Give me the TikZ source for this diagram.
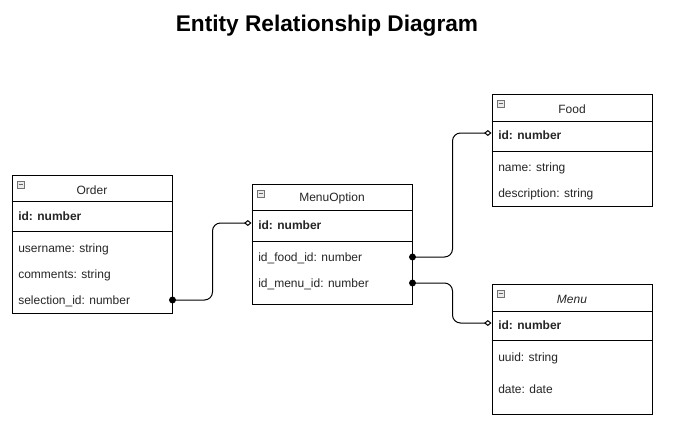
\documentclass[tikz,border=0pt]{standalone}
\usepackage{fontspec}
\setmainfont{Liberation Sans}
\usetikzlibrary{arrows.meta}
\tikzset{
  ent/.style={draw=black, line width=0.75pt, fill=white, inner sep=0pt, minimum width=120pt},
  fld/.style={anchor=west, inner sep=0pt, yshift=-1.3pt, font=\fontsize{9pt}{10pt}\selectfont, text=black!85},
  pk/.style={fld, font=\bfseries\fontsize{9pt}{10pt}\selectfont},
  hdr/.style={inner sep=0pt, yshift=-1.3pt, font=\fontsize{9pt}{10pt}\selectfont, text=black!85},
  sep/.style={line width=0.75pt},
  rel/.style={line width=0.75pt, rounded corners=6pt, -{Diamond[open, fill=white, length=5.5pt, width=4.5pt]}},
  icon/.style={draw=black!55, fill=black!8, line width=0.5pt, minimum size=5pt, inner sep=0pt}
}
\newcommand{\collapseicon}[2]{%
  \node[icon] (#1) at (#2) {};
  \draw[black!60, line width=0.6pt] ([xshift=-1.5pt]#1.center) -- ([xshift=1.5pt]#1.center);}
\begin{document}
\begin{tikzpicture}[x=0.75pt, y=-0.75pt]
\useasboundingbox (0,0) rectangle (675,429);

\node[font=\bfseries\fontsize{17pt}{20pt}\selectfont] (title) at (327,26) {Entity Relationship Diagram};

% Order
\node[ent, minimum height=103.5pt] (order) at (92,244) {};
\draw[sep] (order.west |- 0,201) -- (order.east |- 0,201);
\draw[sep] (order.west |- 0,231) -- (order.east |- 0,231);
\collapseicon{oicon}{20.5,184.5}
\node[hdr] (otitle) at (92,188) {Order};
\node[pk] (oid) at (18,214) {id: number};
\node[fld] (ouser) at (18,248) {username: string};
\node[fld] (ocom) at (18,274) {comments: string};
\node[fld] (osel) at (18,300) {selection\_id: number};

% MenuOption
\node[ent, minimum height=90pt] (mo) at (332,244) {};
\draw[sep] (mo.west |- 0,210) -- (mo.east |- 0,210);
\draw[sep] (mo.west |- 0,241) -- (mo.east |- 0,241);
\collapseicon{moicon}{260.5,193.5}
\node[hdr] (motitle) at (332,197) {MenuOption};
\node[pk] (moid) at (258,223) {id: number};
\node[fld] (mofood) at (258,257) {id\_food\_id: number};
\node[fld] (momenu) at (258,283) {id\_menu\_id: number};

% Food
\node[ent, minimum height=84pt] (food) at (572,150) {};
\draw[sep] (food.west |- 0,121) -- (food.east |- 0,121);
\draw[sep] (food.west |- 0,151) -- (food.east |- 0,151);
\collapseicon{ficon}{500.5,103.5}
\node[hdr] (ftitle) at (572,107) {Food};
\node[pk] (fid) at (498,133) {id: number};
\node[fld] (fname) at (498,167) {name: string};
\node[fld] (fdesc) at (498,193) {description: string};

% Menu
\node[ent, minimum height=97.5pt] (menu) at (572,349) {};
\draw[sep] (menu.west |- 0,311) -- (menu.east |- 0,311);
\draw[sep] (menu.west |- 0,340) -- (menu.east |- 0,340);
\collapseicon{micon}{500.5,293.5}
\node[hdr, font=\itshape\fontsize{9pt}{10pt}\selectfont] (mtitle) at (572,298) {Menu};
\node[pk] (mid) at (498,323) {id: number};
\node[fld] (muuid) at (498,357) {uuid: string};
\node[fld] (mdate) at (498,387) {date: date};

% connectors
\coordinate (s1) at (order.east |- 0,300);
\coordinate (e1) at (mo.west |- 0,223);
\coordinate (s2) at (mo.east |- 0,257);
\coordinate (e2) at (food.west |- 0,133);
\coordinate (s3) at (mo.east |- 0,283);
\coordinate (e3) at (menu.west |- 0,323);

\draw[rel] (s1) -- ++(40,0) |- (e1);
\draw[rel] (s2) -- ++(40,0) |- (e2);
\draw[rel] (s3) -- ++(40,0) |- (e3);
\fill (s1) circle (2.6pt);
\fill (s2) circle (2.6pt);
\fill (s3) circle (2.6pt);
\end{tikzpicture}
\end{document}
